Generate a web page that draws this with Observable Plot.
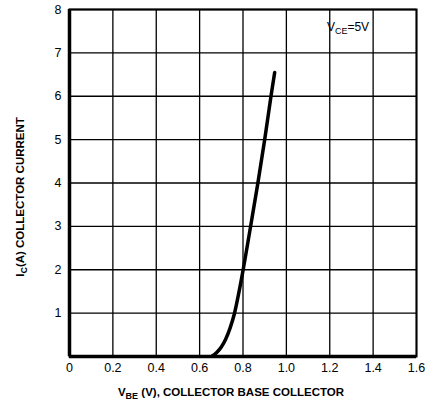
<!DOCTYPE html>
<html>
<head>
<meta charset="utf-8">
<script src="https://cdn.jsdelivr.net/npm/d3@7"></script>
<script src="https://cdn.jsdelivr.net/npm/@observablehq/plot@0.6"></script>
<style>
  body { margin: 0; background: #fff; }
  #chart svg { display: block; }
</style>
</head>
<body>
<div id="chart"></div>
<script>
const vbe = [0.655, 0.68, 0.70, 0.72, 0.74, 0.76, 0.78, 0.80, 0.834, 0.868, 0.90, 0.929, 0.946];
const ic  = [0.0,   0.1,  0.22, 0.4,  0.65, 0.98, 1.45, 1.98, 2.97,  3.98,  5.0,  6.0,   6.55];
const xTicks = [0, 0.2, 0.4, 0.6, 0.8, 1.0, 1.2, 1.4, 1.6];
const yTicks = [1, 2, 3, 4, 5, 6, 7, 8];
const yGrid = [0, 1, 2, 3, 4, 5, 6, 7, 8];

const curve = vbe.map((v, i) => ({vbe: v, ic: ic[i]}));

const svg = Plot.plot({
  width: 426,
  height: 405,
  marginLeft: 69,
  marginRight: 10,
  marginTop: 9,
  marginBottom: 49,
  style: {fontFamily: "'Liberation Sans', Arial, sans-serif", fontSize: "12.5px", color: "#000", background: "#fff"},
  x: {domain: [0, 1.6], ticks: xTicks, tickFormat: d => d === 0 ? "0" : d.toFixed(1), label: null, tickSize: 0, tickPadding: 7},
  y: {domain: [0, 8], ticks: yTicks, tickFormat: d => String(d), label: null, tickSize: 0, tickPadding: 8},
  marks: [
    Plot.gridX(xTicks, {stroke: "#000", strokeOpacity: 1, strokeWidth: 1.3}),
    Plot.gridY(yGrid, {stroke: "#000", strokeOpacity: 1, strokeWidth: 1.3}),
    Plot.frame({stroke: "#000", strokeWidth: 2}),
    Plot.ruleX([0], {stroke: "#000", strokeWidth: 3.5}),
    Plot.ruleY([0], {stroke: "#000", strokeWidth: 3.5}),
    Plot.line(curve, {x: "vbe", y: "ic", curve: "monotone-x", stroke: "#000", strokeWidth: 3.5, strokeLinecap: "round", clip: true})
  ]
});

const s = d3.select(svg);
// Y axis label
const yl = s.append("text")
  .attr("transform", "translate(24,197) rotate(-90)")
  .attr("text-anchor", "middle")
  .attr("font-weight", "bold")
  .attr("font-size", "11.5px")
  .attr("fill", "#000");
yl.append("tspan").text("I");
yl.append("tspan").attr("font-size", "9px").attr("dy", "3").text("C");
yl.append("tspan").attr("dy", "-3").text("(A) COLLECTOR CURRENT");

// X axis label
const xl = s.append("text")
  .attr("x", 231).attr("y", 396)
  .attr("text-anchor", "middle")
  .attr("font-weight", "bold")
  .attr("font-size", "11.5px")
  .attr("fill", "#000");
xl.append("tspan").text("V");
xl.append("tspan").attr("font-size", "9px").attr("dy", "3").text("BE");
xl.append("tspan").attr("dy", "-3").text(" (V), COLLECTOR BASE COLLECTOR");

// Annotation
const an = s.append("text")
  .attr("x", 348).attr("y", 31)
  .attr("font-size", "12px")
  .attr("fill", "#000");
an.append("tspan").text("V");
an.append("tspan").attr("font-size", "9px").attr("dy", "3").text("CE");
an.append("tspan").attr("dy", "-3").text("=5V");

document.getElementById("chart").appendChild(svg);
</script>
</body>
</html>
